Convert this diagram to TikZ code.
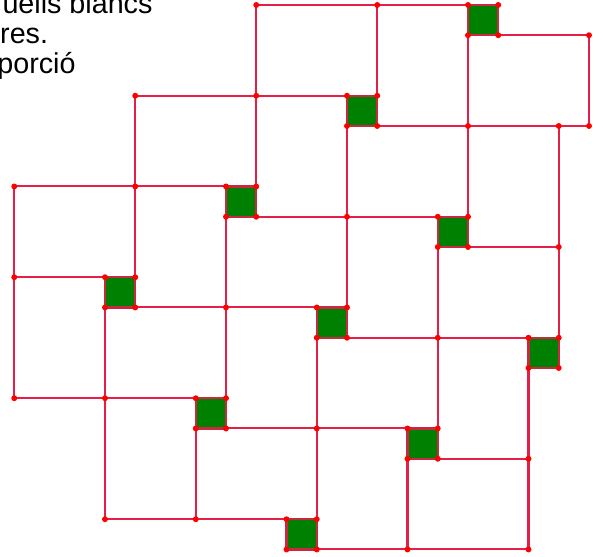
\documentclass[tikz,border=0pt]{standalone}
\usepackage{fontspec}
\setmainfont{Liberation Sans}
\definecolor{tileline}{RGB}{228,32,72}
\definecolor{tilegreen}{RGB}{0,128,0}
\definecolor{tileedge}{RGB}{200,40,64}
\definecolor{dotred}{RGB}{255,0,0}

\begin{document}
\begin{tikzpicture}
    \clip (-0.471,-0.248) rectangle (19.463,18.165);

    % green tiles
    \foreach \x/\y in {15/17,11/14,7/11,3/8,14/10,10/7,6/4,17/6,13/3,9/0}
        \fill[tilegreen] (\x,\y) rectangle (\x+1,\y+1);

    % horizontal edges
    \foreach \y/\a/\b in {18/8/15, 17/16/19, 15/4/11, 14/12/19, 12/0/7, 11/8/14, 10/15/18, 9/0/3,
                          8/4/10, 7/11/17, 5/0/6, 4/7/13, 3/14/17, 1/3/9, 0/10/17}
        \draw[tileline, line width=1.9pt] (\a,\y) -- (\b,\y);
    % vertical edges
    \foreach \x/\a/\b in {0/5/12, 3/1/8, 4/9/15, 6/1/4, 7/5/11, 8/12/18, 10/1/7, 11/8/14,
                          12/15/18, 13/0/3, 14/4/10, 15/11/17, 17/0/6, 18/7/14, 19/14/17}
        \draw[tileline, line width=1.9pt] (\x,\a) -- (\x,\b);

    \foreach \x/\y in {15/17,11/14,7/11,3/8,14/10,10/7,6/4,17/6,13/3,9/0}
        \draw[tileedge, line width=2.2pt] (\x,\y) rectangle (\x+1,\y+1);

    % points
    \foreach \x/\y in {15/17,11/14,7/11,3/8,14/10,10/7,6/4,17/6,13/3,9/0}
        \foreach \dx/\dy in {0/0,1/0,0/1,1/1}
            \fill[dotred] (\x+\dx,\y+\dy) circle (2.8pt);
    \foreach \x/\y in {8/18,12/18,19/17,4/15,8/15,15/14,18/14,19/14,0/12,4/12,11/11,18/10,
                       0/9,7/8,14/7,0/5,3/5,10/4,17/3,3/1,6/1,13/0,17/0}
        \fill[dotred] (\x,\y) circle (2.8pt);

    \node[anchor=base west, inner sep=0pt, font=\fontsize{27}{32}\selectfont] (line1) at (-0.395,17.72) {uells blancs};
    \node[anchor=base west, inner sep=0pt, font=\fontsize{27}{32}\selectfont] (line2) at (-0.471,16.74) {res.};
    \node[anchor=base west, inner sep=0pt, font=\fontsize{27}{32}\selectfont] (line3) at (-0.564,15.72) {porció};
\end{tikzpicture}
\end{document}
